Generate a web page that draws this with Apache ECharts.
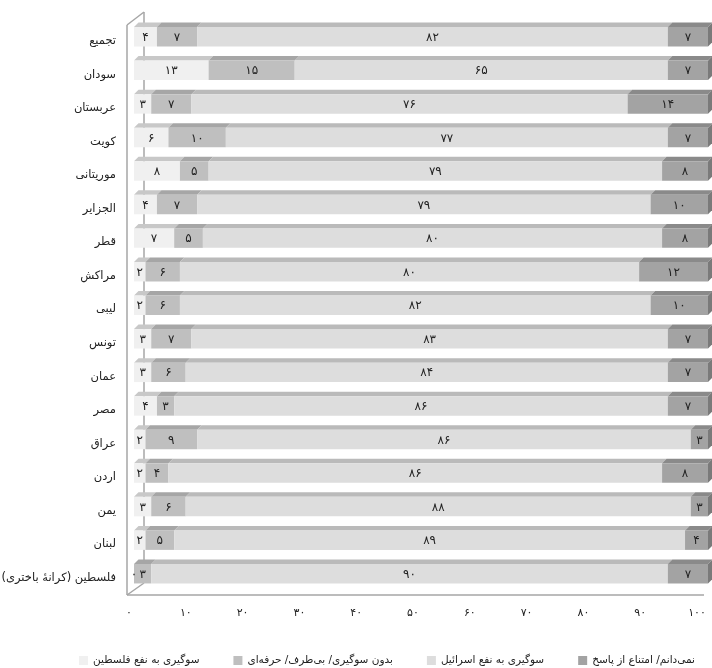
<!DOCTYPE html>
<html>
<head>
<meta charset="utf-8">
<script src="https://cdn.jsdelivr.net/npm/echarts@6/dist/echarts.min.js"></script>
<style>
html,body{margin:0;padding:0;background:#fff;}
#chart{position:absolute;left:0;top:0;width:712px;height:668px;}
</style>
</head>
<body>
<div id="chart"></div>
<script>
// ---- data (top to bottom) ----
const categories = ['تجمیع','سودان','عربستان','کویت','موریتانی','الجزایر','قطر','مراکش','لیبی','تونس','عمان','مصر','عراق','اردن','یمن','لبنان','فلسطین (کرانهٔ باختری)'];
const proPalestine = [4,13,3,6,8,4,7,2,2,3,3,4,2,2,3,2,0];
const neutral      = [7,15,7,10,5,7,5,6,6,7,6,3,9,4,6,5,3];
const proIsrael    = [82,65,76,77,79,79,80,80,82,83,84,86,86,86,88,89,90];
const dontKnow     = [7,7,14,7,8,10,8,12,10,7,7,7,3,8,3,4,7];
const seriesNames = ['سوگیری به نفع فلسطین','بدون سوگیری/ بی‌طرف/ حرفه‌ای','سوگیری به نفع اسرائیل','نمی‌دانم/ امتناع از پاسخ'];
const tickValues = [0,10,20,30,40,50,60,70,80,90,100];

// ---- styling ----
const frontColors = ['#f0f0f0','#bfbfbf','#dddddd','#a3a3a3'];
const topColors   = ['#c8c8c8','#a6a6a6','#bababa','#8a8a8a'];
const sideColor = '#7a7a7a';
const FONT = 'DejaVu Sans';
const fa = v => String(v).replace(/\d/g, d => '۰۱۲۳۴۵۶۷۸۹'[d]);

const allSeries = [proPalestine, neutral, proIsrael, dontKnow];
const DEPTH = 4.5;

function buildData(k) {
  return categories.map((c, i) => {
    let start = 0;
    for (let j = 0; j < k; j++) start += allSeries[j][i];
    return [start, start + allSeries[k][i], i, allSeries[k][i]];
  });
}

function makeRender(k) {
  return function (params, api) {
    const s = api.value(0), e = api.value(1), cat = api.value(2), v = api.value(3);
    const p0 = api.coord([s, cat]);
    const p1 = api.coord([e, cat]);
    const band = api.size([0, 1])[1];
    const h = band * 0.58;
    const yT = p0[1] - h / 2, yB = p0[1] + h / 2;
    const x0 = p0[0], x1 = p1[0];
    const children = [];
    if (x1 - x0 > 0) {
      children.push({
        type: 'polygon',
        shape: { points: [[x0, yT], [x1, yT], [x1 + DEPTH, yT - DEPTH], [x0 + DEPTH, yT - DEPTH]] },
        style: { fill: topColors[k] }
      });
      children.push({
        type: 'rect',
        shape: { x: x0, y: yT, width: x1 - x0, height: h },
        style: { fill: frontColors[k] }
      });
      if (k === allSeries.length - 1) {
        children.push({
          type: 'polygon',
          shape: { points: [[x1, yT], [x1 + DEPTH, yT - DEPTH], [x1 + DEPTH, yB - DEPTH], [x1, yB]] },
          style: { fill: sideColor }
        });
      }
    }
    children.push({
      type: 'text',
      style: {
        text: fa(v), x: (x0 + x1) / 2, y: p0[1] + 1,
        align: 'center', verticalAlign: 'middle',
        fill: '#222', font: '12px "' + FONT + '"'
      },
      z2: 10
    });
    return { type: 'group', children: children };
  };
}

// wall / floor geometry
const wallFX = 127, wallBX = 144, wallFTop = 25, wallBTop = 12, floorFY = 595, floorBY = 583, floorRight = 704;
const wallStyle = { stroke: '#a6a6a6', lineWidth: 1.5 };

const chart = echarts.init(document.getElementById('chart'), null, { renderer: 'canvas' });
chart.setOption({
  backgroundColor: '#fff',
  animation: false,
  textStyle: { fontFamily: FONT },
  legend: {
    data: seriesNames,
    left: 74, top: 650,
    itemWidth: 9, itemHeight: 9, itemGap: 34,
    icon: 'rect',
    textStyle: { fontSize: 10.5, color: '#222', fontFamily: FONT },
    selectedMode: false
  },
  grid: [
    { left: 134, right: 4, top: 20, height: 570.5, outerBoundsMode: 'none', containLabel: false },
    { left: 129, right: 15, top: 24.2, height: 570.5, outerBoundsMode: 'none', containLabel: false }
  ],
  xAxis: [
    { gridIndex: 0, type: 'value', min: 0, max: 100, show: false },
    { gridIndex: 1, type: 'value', min: 0, max: 100, interval: 10,
      axisLine: { show: false }, axisTick: { show: false }, splitLine: { show: false },
      axisLabel: { margin: 13, fontSize: 11, color: '#222', fontFamily: FONT, formatter: v => fa(v) } }
  ],
  yAxis: [
    { gridIndex: 0, type: 'category', data: categories, inverse: true, show: false },
    { gridIndex: 1, type: 'category', data: categories, inverse: true,
      axisLine: { show: false }, axisTick: { show: false },
      axisLabel: { margin: 13, fontSize: 11.5, color: '#222', fontFamily: FONT, formatter: v => '\u200F' + v + '\u200F' } }
  ],
  graphic: [
    { type: 'line', z: 0, shape: { x1: wallBX, y1: wallBTop, x2: wallBX, y2: floorBY }, style: wallStyle },
    { type: 'line', z: 0, shape: { x1: wallFX, y1: wallFTop, x2: wallBX, y2: wallBTop }, style: wallStyle },
    { type: 'line', z: 0, shape: { x1: wallFX, y1: wallFTop, x2: wallFX, y2: floorFY }, style: wallStyle },
    { type: 'line', z: 0, shape: { x1: wallFX, y1: floorFY, x2: wallBX, y2: floorBY }, style: wallStyle },
    { type: 'line', z: 0, shape: { x1: wallFX, y1: floorFY, x2: floorRight, y2: floorFY }, style: wallStyle }
  ],
  series: seriesNames.map((name, k) => ({
    type: 'custom',
    name: name,
    xAxisIndex: 0, yAxisIndex: 0,
    itemStyle: { color: frontColors[k] },
    encode: { x: [0, 1], y: 2 },
    data: buildData(k),
    renderItem: makeRender(k),
    z: 5
  }))
});
</script>
</body>
</html>
